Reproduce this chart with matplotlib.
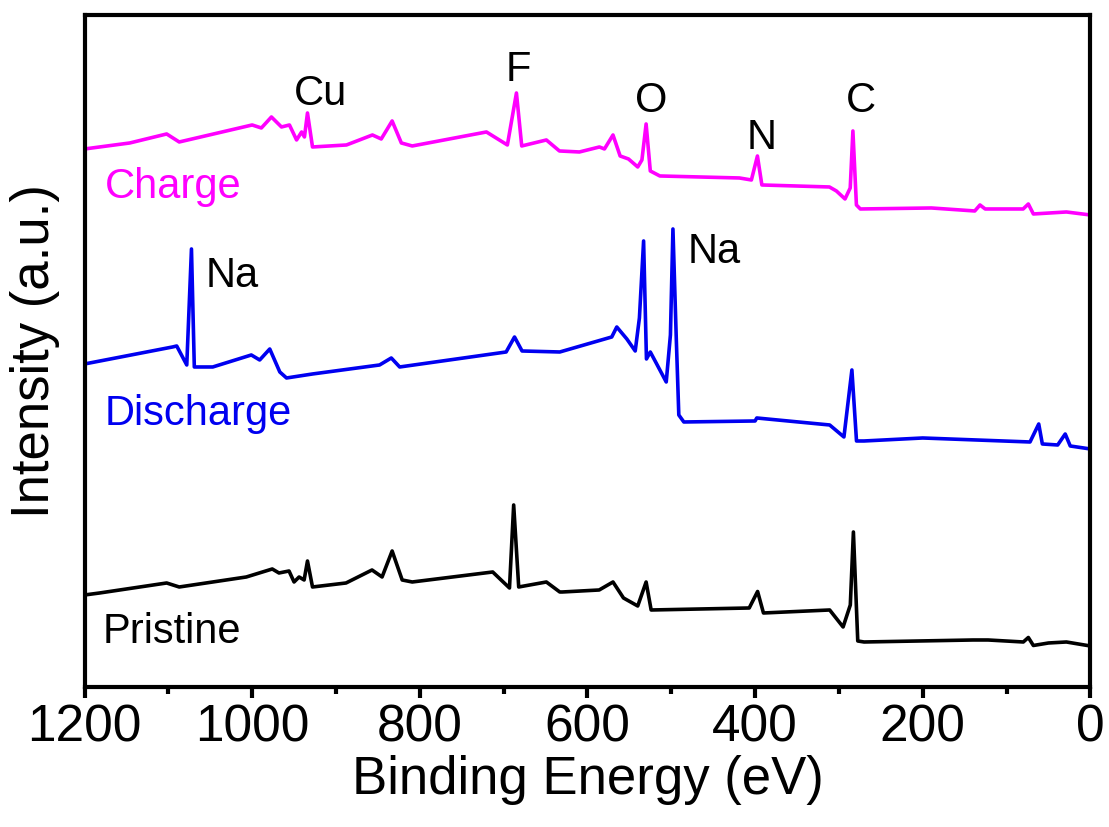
import matplotlib
matplotlib.use("Agg")
import matplotlib.pyplot as plt
from matplotlib.ticker import MultipleLocator

plt.rcParams['font.family'] = ['Liberation Sans', 'DejaVu Sans']

# ---- data (binding energy in eV, intensity in arbitrary units) ----
pristine_E = [1200, 1182, 1102, 1087, 1007, 976, 968, 956, 950, 944, 938, 934, 928, 888, 857,
              845, 833, 821, 809, 713, 693, 688, 682, 649, 633, 630, 586, 569.5, 557, 540, 530,
              524, 407, 397, 390, 311, 295, 286.4, 282.7, 277.5, 270, 140, 122, 80, 74, 68, 50,
              28.6, 0]
pristine_I = [92, 94, 104, 100, 110, 118, 114, 116, 105, 110, 107, 126, 100, 104, 117,
              110, 136, 107, 105, 115, 99, 182, 100, 105, 95, 95, 97, 105, 89, 81, 105,
              77, 79, 95.5, 74, 77, 60, 82, 155, 46, 45, 47, 47, 45, 49.5, 41.5, 44,
              45, 41]

discharge_E = [1200, 1095, 1090, 1078, 1072.4, 1069, 1047, 1001, 991, 979, 967, 959, 928, 848,
               834, 824, 697, 687, 678, 633, 571, 565, 553, 543, 538, 533, 529.6, 525, 518,
               506, 501, 498, 494, 491, 485, 400, 398, 311, 294, 284.5, 279, 270, 200, 72,
               61.6, 57.3, 39, 30, 24, 0]
discharge_I = [323, 340, 341, 322, 438, 320, 320, 332, 327, 338, 315, 309, 313, 322,
               329, 320, 335, 350, 336, 335, 350, 360, 348, 336, 369, 446, 328, 335, 324,
               305, 352, 458, 348, 272, 265, 266, 269, 262, 250, 317, 246, 246, 249, 245,
               263, 243, 242, 253, 241, 238]

charge_E = [1200, 1146, 1102, 1087, 1000, 989, 977, 965, 955.5, 947, 941, 937.6, 934, 928,
            887.5, 856.5, 846, 833, 822, 809, 720.5, 695.5, 684.7, 678.4, 649, 633.4, 609.6,
            585.7, 579.7, 569.5, 561, 551, 540, 535, 530, 525, 513.6, 418.7, 404.4, 397.2,
            391.9, 311.3, 303, 292.7, 286.5, 283.3, 279.1, 274.4, 189.7, 137.9, 131.7, 125.5,
            80.2, 74, 68, 28.6, 0]
charge_I = [538, 544, 553, 545, 562, 559, 570, 560, 562, 547, 555, 550, 574, 540,
            542, 552, 548, 566, 544, 541, 555, 542, 594, 541, 547, 536, 535,
            540, 538, 552, 531, 528, 520, 527, 563, 516, 511, 509, 507, 531,
            502, 500, 496, 488, 499, 556, 482, 478, 479, 476, 482, 478,
            478, 483, 473, 475, 472]

series_names = ['Pristine', 'Discharge', 'Charge']
series_colors = ['#000000', '#0000F0', '#FF00FF']

element_labels = ['Cu', 'F', 'O', 'N', 'C']
element_E = [919, 682, 524.5, 392.6, 273.3]
element_I = [582, 606, 575, 538, 575]

na_labels = ['Na', 'Na']
na_E = [1055, 481]
na_I = [400, 424]

name_E = [1178, 1176, 1176]
name_I = [44, 262, 489]

xticks = [1200, 1000, 800, 600, 400, 200, 0]

# ---- figure ----
fig = plt.figure(figsize=(11.09, 8.27), dpi=100)
ax = fig.add_axes([0.0762, 0.1693, 0.9070, 0.8126])

data = [(pristine_E, pristine_I), (discharge_E, discharge_I), (charge_E, charge_I)]
for (E, I), c in zip(data, series_colors):
    ax.plot(E, I, color=c, lw=2.6, solid_joinstyle='round')

for lab, x, y in zip(element_labels, element_E, element_I):
    ax.text(x, y, lab, ha='center', va='baseline', fontsize=30, color='black')
for lab, x, y in zip(na_labels, na_E, na_I):
    ax.text(x, y, lab, ha='left', va='baseline', fontsize=30, color='black')
for lab, x, y, c in zip(series_names, name_E, name_I, series_colors):
    ax.text(x, y, lab, ha='left', va='baseline', fontsize=30, color=c)

ax.set_xlim(1200, 0)
ax.set_ylim(0, 672)
ax.set_xticks(xticks)
ax.xaxis.set_minor_locator(MultipleLocator(100))
ax.set_yticks([])
ax.tick_params(axis='x', which='major', direction='out', length=8, width=3,
               labelsize=37, pad=4, top=False)
ax.tick_params(axis='x', which='minor', direction='out', length=5, width=3, top=False)
for s in ax.spines.values():
    s.set_linewidth(3)

ax.set_xlabel('Binding Energy (eV)', fontsize=38, labelpad=2)
ax.set_ylabel('Intensity (a.u.)', fontsize=38, labelpad=18)

fig.savefig('out.png', dpi=100)
